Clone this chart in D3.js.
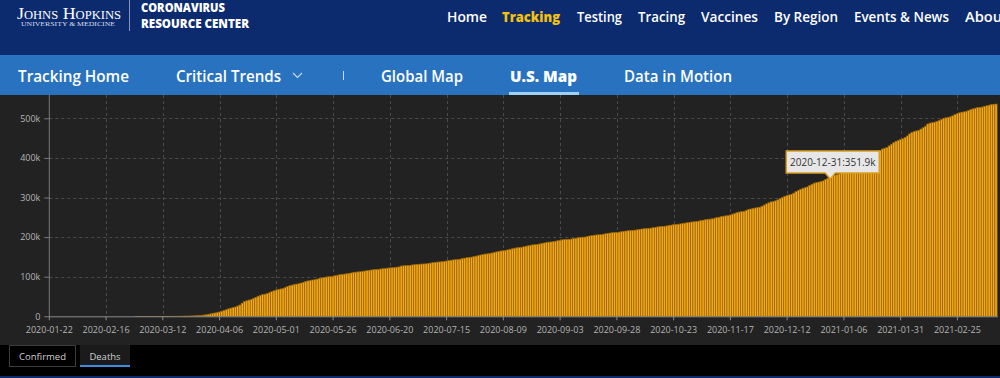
<!DOCTYPE html>
<html>
<head>
<meta charset="utf-8">
<script src="https://cdn.jsdelivr.net/npm/d3@7"></script>
<style>
  html, body { margin: 0; padding: 0; background: #000; }
  svg { display: block; }
</style>
</head>
<body>
<svg id="chart" width="1000" height="378"></svg>
<script>
// ---------------- DATA ----------------
const startDate = "2020-01-22";
// US cumulative deaths, thousands, one value per day from 2020-01-22 to 2021-03-14
const deathsK = [
  // 2020-01-22 .. 2020-02-28
  0,0,0,0,0,0,0,0,0,0, 0,0,0,0,0,0,0,0,0,0, 0,0,0,0,0,0,0,0,0,0, 0,0,0,0,0,0,0,0,
  // 2020-02-29 .. 2020-04-05
  0.001,0.001,0.006,0.007,0.011,0.012,0.014,0.017,0.021,0.022,0.028,0.036,0.040,0.047,0.054,0.063,0.085,0.108,0.118,0.200,0.244,0.307,0.427,0.552,0.706,0.942,1.209,1.581,2.026,2.467,2.978,3.873,4.757,5.926,7.087,8.407,9.619,
  // 2020-04-06 .. 2020-04-30
  10.8,12.7,14.7,16.5,18.6,20.5,22.0,23.5,25.8,28.5,33.2,37.1,39.0,41.0,42.6,45.0,47.3,50.7,52.8,54.6,55.8,57.2,59.4,62.1,64.2,
  // May
  66.2,67.7,69.0,70.3,72.5,74.9,77.2,78.8,80.4,81.2,82.4,84.1,85.9,87.7,89.4,90.6,91.5,92.3,93.9,95.4,96.7,98.0,99.1,99.8,100.3,101.0,102.5,103.7,105.0,105.9,106.5,
  // June
  107.3,108.4,109.4,110.4,111.4,112.1,112.5,113.3,114.3,115.2,116.2,117.0,117.7,118.1,118.5,119.4,120.2,120.9,121.6,122.2,122.5,122.9,123.8,124.6,126.8,127.4,127.9,128.2,128.5,129.7,
  // July
  130.3,131.0,131.6,131.9,132.1,132.5,133.6,134.4,135.4,136.2,136.9,137.3,137.7,138.6,139.6,140.6,141.5,142.4,142.8,143.2,144.4,145.6,146.7,148.0,148.9,149.4,150.5,151.8,153.3,154.7,156.0,
  // August
  157.2,157.6,158.3,159.7,161.2,162.5,163.9,165.0,165.5,166.1,167.7,169.3,170.5,171.9,173.0,173.5,174.1,175.5,176.9,178.1,179.3,180.3,180.8,181.3,182.6,183.9,185.1,186.2,187.2,187.7,188.3,
  // September
  189.5,190.7,191.9,193.0,193.8,194.2,194.5,195.0,196.2,197.2,198.4,199.2,199.6,200.1,201.4,202.7,203.6,204.6,205.4,205.7,206.1,207.1,208.3,209.2,210.2,211.0,211.3,211.6,212.5,213.5,
  // October
  214.4,215.3,216.0,216.4,216.8,217.5,218.5,219.5,220.4,221.1,221.5,221.9,222.7,223.7,224.7,225.6,226.4,226.8,227.3,228.2,229.4,230.3,231.3,232.2,232.6,233.2,234.2,235.2,236.3,237.2,238.1,
  // November
  238.6,239.1,240.3,241.4,242.6,243.8,244.9,245.3,246.1,247.5,249.0,250.2,251.6,252.8,253.5,254.2,255.8,257.8,259.8,261.8,263.3,264.2,265.1,267.3,269.6,270.9,272.3,273.5,274.3,275.5,
  // December
  278.2,281.0,283.9,286.5,288.9,290.0,291.5,294.1,297.3,300.3,302.8,305.2,306.6,308.2,311.2,314.9,318.1,320.8,323.4,324.8,326.7,330.1,333.4,336.2,337.4,338.8,340.2,342.1,345.0,348.6,351.9,
  // January 2021
  353.9,356.3,357.7,359.5,363.2,367.1,371.2,374.9,378.2,380.0,381.9,386.3,390.3,394.3,398.1,401.3,403.0,404.4,406.7,411.1,415.2,419.1,422.5,424.3,426.2,430.3,434.3,438.3,441.8,444.4,446.3,
  // February 2021
  448.2,451.6,455.5,460.5,464.1,466.8,468.1,469.7,472.9,476.2,480.2,485.6,487.9,489.0,490.1,491.8,494.3,496.8,499.4,501.3,502.5,503.8,506.1,509.3,511.6,513.8,515.3,516.3,
  // March 2021
  517.6,519.6,522.0,523.9,525.6,527.0,527.7,528.4,530.2,531.6,533.1,534.6,535.4,535.9
];
const xTickLabels = ["2020-01-22","2020-02-16","2020-03-12","2020-04-06","2020-05-01","2020-05-26","2020-06-20","2020-07-15","2020-08-09","2020-09-03","2020-09-28","2020-10-23","2020-11-17","2020-12-12","2021-01-06","2021-01-31","2021-02-25"];
const yTickValues = [0, 100, 200, 300, 400, 500];
const tooltipDate = "2020-12-31";

const topNav = ["Home", "Tracking", "Testing", "Tracing", "Vaccines", "By Region", "Events & News", "About"];
const subNav = ["Tracking Home", "Critical Trends", "Global Map", "U.S. Map", "Data in Motion"];
const tabs = ["Confirmed", "Deaths"];

// ---------------- BUILD ----------------
const fmt = d3.utcFormat("%Y-%m-%d");
const start = new Date(startDate + "T00:00:00Z");
const dates = deathsK.map((_, i) => fmt(d3.utcDay.offset(start, i)));
const data = dates.map((d, i) => ({ date: d, v: deathsK[i] }));

const svg = d3.select("#chart");
const W = 1000, H = 378;
const SANS = "'Open Sans', 'Noto Sans', sans-serif";

// backgrounds
svg.append("rect").attr("x", 0).attr("y", 0).attr("width", W).attr("height", 55).attr("fill", "#0c2b6f");
svg.append("rect").attr("x", 0).attr("y", 55).attr("width", W).attr("height", 40).attr("fill", "#2872bf");
svg.append("rect").attr("x", 0).attr("y", 95).attr("width", W).attr("height", 250).attr("fill", "#222222");
svg.append("rect").attr("x", 0).attr("y", 345).attr("width", W).attr("height", 31).attr("fill", "#000000");
svg.append("rect").attr("x", 0).attr("y", 376).attr("width", W).attr("height", 2).attr("fill", "#0c2b6f");

// logo
svg.append("text").attr("x", 17).attr("y", 19)
  .attr("font-family", "'Liberation Serif', 'DejaVu Serif', serif")
  .attr("font-size", 17).attr("fill", "#ffffff")
  .attr("textLength", 104).attr("lengthAdjust", "spacingAndGlyphs")
  .style("font-variant", "small-caps").text("Johns Hopkins");
svg.append("text").attr("x", 21).attr("y", 26)
  .attr("font-family", "'Liberation Serif', 'DejaVu Serif', serif")
  .attr("font-size", 6).attr("fill", "#d7dcea")
  .attr("textLength", 94).attr("lengthAdjust", "spacingAndGlyphs")
  .text("UNIVERSITY & MEDICINE");
svg.append("line").attr("x1", 129.5).attr("x2", 129.5).attr("y1", 0).attr("y2", 31)
  .attr("stroke", "#8796bd").attr("stroke-width", 1);
svg.append("text").attr("x", 141).attr("y", 12)
  .attr("font-family", SANS).attr("font-weight", 800).attr("font-size", 11.5).attr("fill", "#fff")
  .attr("textLength", 84).attr("lengthAdjust", "spacingAndGlyphs").text("CORONAVIRUS");
svg.append("text").attr("x", 141).attr("y", 28)
  .attr("font-family", SANS).attr("font-weight", 800).attr("font-size", 11.5).attr("fill", "#fff")
  .attr("textLength", 108).attr("lengthAdjust", "spacingAndGlyphs").text("RESOURCE CENTER");

// top nav
const topX = [447, 502, 577, 638, 701, 774, 854, 965];
const topWidth = [40, 58, 45, 47, 57, 64, 95, 43];
topNav.forEach((t, i) => {
  svg.append("text").attr("x", topX[i]).attr("y", 22)
    .attr("font-family", SANS).attr("font-weight", i === 1 ? 800 : 600)
    .attr("font-size", 14)
    .attr("fill", i === 1 ? "#f4c20d" : "#ffffff")
    .attr("textLength", topWidth[i]).attr("lengthAdjust", "spacingAndGlyphs")
    .text(t);
});

// sub nav
const subX = [18, 176, 381, 510, 624];
const subWidth = [111, 105, 82, 67, 108];
subNav.forEach((t, i) => {
  svg.append("text").attr("x", subX[i]).attr("y", 82)
    .attr("font-family", SANS).attr("font-weight", i === 3 ? 800 : 600)
    .attr("font-size", 15.5).attr("fill", "#ffffff")
    .attr("textLength", subWidth[i]).attr("lengthAdjust", "spacingAndGlyphs")
    .text(t);
});
// chevron
svg.append("path").attr("d", "M293,73 L297.5,77.5 L302,73").attr("fill", "none")
  .attr("stroke", "#c9dcf2").attr("stroke-width", 1.1);
// divider
svg.append("line").attr("x1", 343.5).attr("x2", 343.5).attr("y1", 71).attr("y2", 80)
  .attr("stroke", "#c9dcf2").attr("stroke-width", 1);
// active underline
svg.append("rect").attr("x", 509).attr("y", 92).attr("width", 70).attr("height", 3).attr("fill", "#9fd0f5");

// ---------------- CHART ----------------
const x0 = 49.3, x1 = 996;
const step = (x1 - x0) / (dates.length - 1);
const x = d3.scaleBand().domain(dates).range([x0 - step / 2, x1 + step / 2]).padding(0);
const y = d3.scaleLinear().domain([0, 500]).range([316.3, 118.3]);

const plotTop = 95, plotRight = 998;

// gridlines
const grid = svg.append("g");
grid.selectAll("line.h").data(yTickValues.filter(v => v > 0)).join("line")
  .attr("x1", x0).attr("x2", plotRight)
  .attr("y1", d => Math.round(y(d)) + 0.5).attr("y2", d => Math.round(y(d)) + 0.5)
  .attr("stroke", "#4a4a4a").attr("stroke-width", 1).attr("stroke-dasharray", "3,3");
grid.selectAll("line.v").data(xTickLabels.slice(1)).join("line")
  .attr("x1", d => Math.round(x(d) + x.bandwidth() / 2) + 0.5)
  .attr("x2", d => Math.round(x(d) + x.bandwidth() / 2) + 0.5)
  .attr("y1", plotTop).attr("y2", y(0))
  .attr("stroke", "#4a4a4a").attr("stroke-width", 1).attr("stroke-dasharray", "3,3");

// bars
svg.append("g").selectAll("rect").data(data.filter(d => d.v > 0)).join("rect")
  .attr("x", d => x(d.date))
  .attr("width", x.bandwidth())
  .attr("y", d => y(d.v))
  .attr("height", d => y(0) - y(d.v))
  .attr("fill", "#f4aa18")
  .attr("stroke", "#9a6406")
  .attr("stroke-width", 0.7);

// axes
const yAxis = d3.axisLeft(y).tickValues(yTickValues)
  .tickFormat(d => d === 0 ? "0" : d + "k").tickSize(5).tickPadding(4);
const gy = svg.append("g").attr("transform", `translate(${x0},0)`).call(yAxis);
gy.select(".domain").remove();
gy.append("line").attr("x1", 0).attr("x2", 0).attr("y1", plotTop).attr("y2", y(0))
  .attr("stroke", "#7a7a7a");
gy.selectAll(".tick line").attr("stroke", "#7a7a7a");
gy.selectAll(".tick text").attr("fill", "#b4b4b4")
  .attr("font-family", SANS).attr("font-size", 9);

const xAxis = d3.axisBottom(x).tickValues(xTickLabels).tickSize(4).tickPadding(6);
const gx = svg.append("g").attr("transform", `translate(0,${y(0)})`).call(xAxis);
gx.select(".domain").remove();
gx.append("line").attr("x1", x0).attr("x2", plotRight).attr("y1", 0.5).attr("y2", 0.5)
  .attr("stroke", "#8a8a8a");
gx.selectAll(".tick line").attr("stroke", "#8a8a8a");
gx.selectAll(".tick text").attr("fill", "#b4b4b4")
  .attr("font-family", SANS).attr("font-size", 9);

// tooltip
const tip = data.find(d => d.date === tooltipDate);
const tx = x(tip.date) + x.bandwidth() / 2;
const tipY = y(tip.v) + 2;
const boxW = 93, boxH = 22, arrowH = 6;
const bx = tx - 44, by = tipY - arrowH - boxH;
const tg = svg.append("g");
tg.append("path")
  .attr("d", `M${bx},${by} H${bx + boxW} V${by + boxH} H${tx + 5} L${tx},${tipY} L${tx - 5},${by + boxH} H${bx} Z`)
  .attr("fill", "#e7e7e7").attr("stroke", "#d9a024").attr("stroke-width", 1.5);
tg.append("text").attr("x", bx + boxW / 2).attr("y", by + 15)
  .attr("text-anchor", "middle").attr("font-family", SANS).attr("font-size", 10)
  .attr("fill", "#333333").text(`${tip.date}:${tip.v}k`);

// bottom tabs
svg.append("rect").attr("x", 9.5).attr("y", 345.5).attr("width", 66).attr("height", 21)
  .attr("fill", "#000").attr("stroke", "#3c3c3c");
svg.append("rect").attr("x", 80).attr("y", 345).attr("width", 50).attr("height", 21).attr("fill", "#1b1b1b");
svg.append("rect").attr("x", 80).attr("y", 365).attr("width", 50).attr("height", 2).attr("fill", "#3d8ee0");
const tabX = [42.5, 105];
tabs.forEach((t, i) => {
  svg.append("text").attr("x", tabX[i]).attr("y", 360)
    .attr("text-anchor", "middle").attr("font-family", SANS).attr("font-size", 9.5)
    .attr("fill", "#d0d0d0").text(t);
});
</script>
</body>
</html>
